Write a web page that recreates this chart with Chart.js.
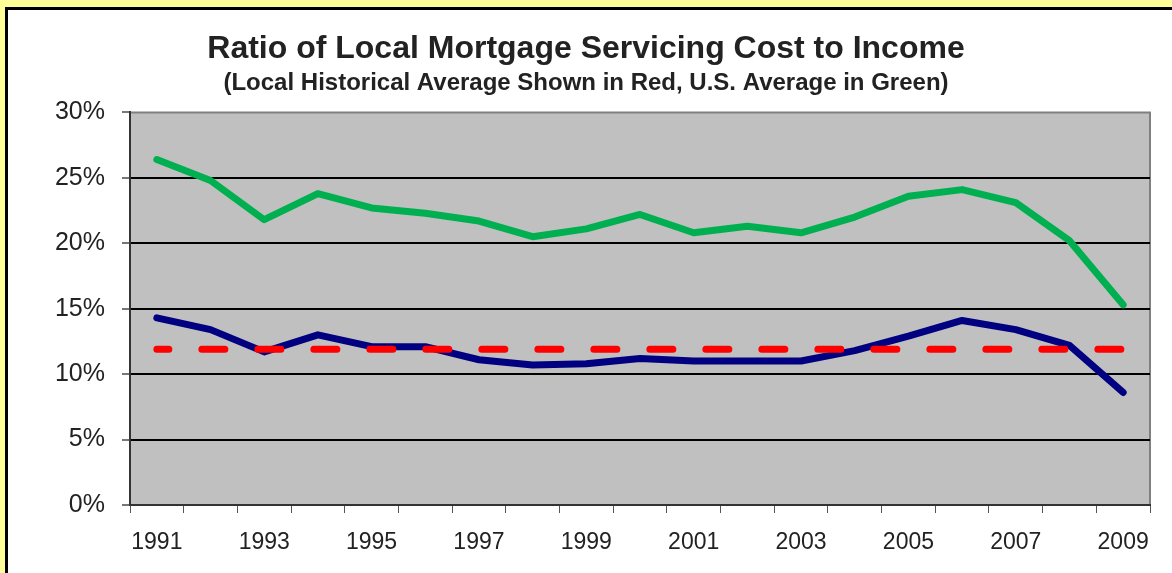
<!DOCTYPE html>
<html>
<head>
<meta charset="utf-8">
<script src="https://cdn.jsdelivr.net/npm/chart.js@4"></script>
<style>
    html, body { margin: 0; padding: 0; width: 1172px; height: 573px; overflow: hidden; background: #FFFF99; }
    #frame { position: absolute; left: 5px; top: 7px; width: 1200px; height: 600px; border: 3px solid #000; background: #fff; }
    #chart { position: absolute; left: 0; top: 0; }
</style>
</head>
<body>
<div id="frame"></div>
<canvas id="chart" width="1172" height="573"></canvas>
<script>
// Data
const years = ["1991", "1992", "1993", "1994", "1995", "1996", "1997", "1998", "1999", "2000",
               "2001", "2002", "2003", "2004", "2005", "2006", "2007", "2008", "2009"];
const usAverage = [26.4, 24.8, 21.8, 23.8, 22.7, 22.3, 21.7, 20.5, 21.1, 22.2,
                   20.8, 21.3, 20.8, 22.0, 23.6, 24.1, 23.1, 20.2, 15.3];
const localRatio = [14.3, 13.4, 11.7, 13.0, 12.1, 12.1, 11.1, 10.7, 10.8, 11.2,
                    11.0, 11.0, 11.0, 11.8, 12.9, 14.1, 13.4, 12.2, 8.6];
const localHistAvg = [11.9, 11.9, 11.9, 11.9, 11.9, 11.9, 11.9, 11.9, 11.9, 11.9,
                      11.9, 11.9, 11.9, 11.9, 11.9, 11.9, 11.9, 11.9, 11.9];
const yTicks = [0, 5, 10, 15, 20, 25, 30];

const FONT = "'Liberation Sans', Arial, sans-serif";

// grey plot area like the old excel chart
const plotArea = {
    id: "plotArea",
    beforeDraw(chart) {
        const a = chart.chartArea;
        const ctx = chart.ctx;
        ctx.save();
        ctx.fillStyle = "#C0C0C0";
        ctx.fillRect(a.left, a.top, a.right - a.left, a.bottom - a.top);
        ctx.strokeStyle = "#808080";
        ctx.lineWidth = 2;
        ctx.beginPath();
        ctx.moveTo(a.left, a.bottom);
        ctx.lineTo(a.left, a.top);
        ctx.lineTo(a.right, a.top);
        ctx.lineTo(a.right, a.bottom);
        ctx.stroke();
        ctx.restore();
    }
};

const ctx = document.getElementById("chart").getContext("2d");
const myChart = new Chart(ctx, {
    type: "line",
    data: {
        labels: years,
        datasets: [{
            label: "Local Historical Average",
            data: localHistAvg,
            borderColor: "#FF0000",
            borderWidth: 7,
            borderDash: [23, 33],
            borderDashOffset: 11,
            borderCapStyle: "round",
            pointRadius: 0,
            order: 0
        }, {
            label: "Local",
            data: localRatio,
            borderColor: "#000080",
            borderWidth: 7,
            borderCapStyle: "round",
            borderJoinStyle: "round",
            pointRadius: 0,
            order: 1
        }, {
            label: "U.S. Average",
            data: usAverage,
            borderColor: "#00B050",
            borderWidth: 7,
            borderCapStyle: "round",
            borderJoinStyle: "round",
            pointRadius: 0,
            order: 2
        }]
    },
    options: {
        responsive: false,
        animation: false,
        devicePixelRatio: 1,
        layout: { padding: { left: 0, right: 0, top: 0, bottom: 16 } },
        plugins: {
            legend: { display: false },
            tooltip: { enabled: false },
            title: {
                display: true,
                text: "Ratio of Local Mortgage Servicing Cost to Income",
                color: "#222",
                font: { family: FONT, size: 32, weight: "bold", lineHeight: 1.2 },
                padding: { top: 30, bottom: 0 }
            },
            subtitle: {
                display: true,
                text: "(Local Historical Average Shown in Red, U.S. Average in Green)",
                color: "#222",
                font: { family: FONT, size: 24, weight: "bold", lineHeight: 1.0 },
                padding: { top: 3, bottom: 17 }
            }
        },
        scales: {
            x: {
                offset: true,
                afterFit: function(scale) { scale.height = 52; },
                grid: {
                    offset: true,
                    drawOnChartArea: false,
                    tickLength: 8,
                    tickColor: "#555",
                    lineWidth: 1
                },
                border: { color: "#333", width: 2 },
                ticks: {
                    autoSkip: false,
                    maxRotation: 0,
                    padding: 16,
                    color: "#222",
                    font: { family: FONT, size: 23 },
                    callback: function(value, index) {
                        return index % 2 === 0 ? years[index] : "";
                    }
                }
            },
            y: {
                min: 0,
                max: 30,
                afterFit: function(scale) { scale.width = 130; },
                afterBuildTicks: function(scale) {
                    scale.ticks = yTicks.map(v => ({ value: v }));
                },
                grid: {
                    color: function(c) {
                        return (c.tick.value === 0 || c.tick.value === 30) ? "rgba(0,0,0,0)" : "#000";
                    },
                    lineWidth: 2,
                    tickLength: 8,
                    tickColor: "#777"
                },
                border: { color: "#333", width: 2 },
                ticks: {
                    padding: 17,
                    color: "#222",
                    font: { family: FONT, size: 25 },
                    callback: function(value) { return value + "%"; }
                }
            },
            // empty right margin, keeps the title centred on the page
            yRight: {
                position: "right",
                min: 0,
                max: 30,
                afterFit: function(scale) { scale.width = 22; },
                grid: { drawOnChartArea: false, drawTicks: false },
                border: { display: false },
                ticks: { display: false }
            }
        }
    },
    plugins: [plotArea]
});
</script>
</body>
</html>
